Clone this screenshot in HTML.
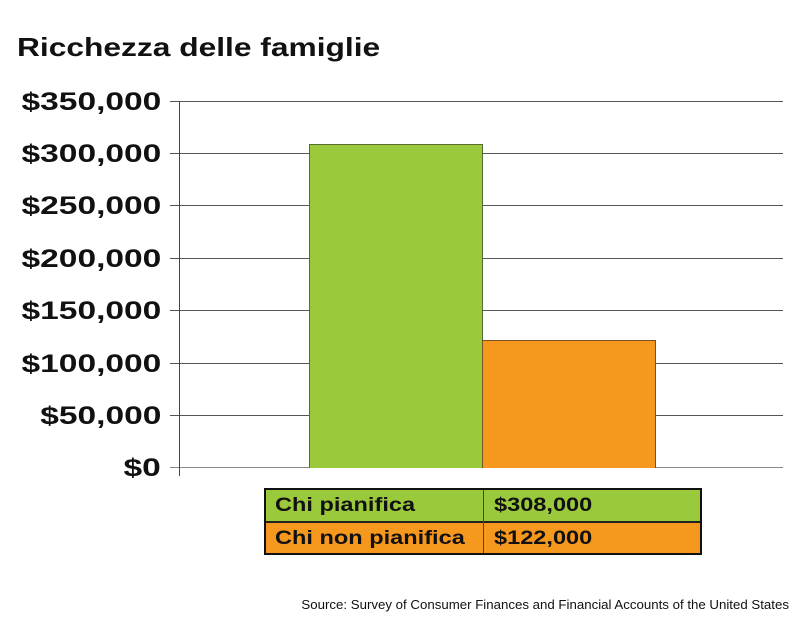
<!DOCTYPE html>
<html><head><style>
body{margin:0;width:803px;height:625px;background:#fff;position:relative;font-family:"Liberation Sans",Arial,sans-serif;overflow:hidden}
.t{position:absolute;left:17px;top:32px;font-size:26px;font-weight:bold;color:#111;transform:scaleX(1.22);transform-origin:left;white-space:nowrap}
.yl{position:absolute;right:642px;font-size:25px;font-weight:bold;color:#111;line-height:24px;transform:scaleX(1.34);transform-origin:right;white-space:nowrap}
.g{position:absolute;left:170px;width:613px;height:1px;background:#555}
.tb{position:absolute;left:264px;top:488px;width:434px;height:63px;border:2px solid #111}
.r{position:absolute;left:0;width:434px;height:31px;font-size:19px;font-weight:bold;color:#111;line-height:31px}
.c1,.c2{position:absolute;transform:scaleX(1.24);transform-origin:left;white-space:nowrap}
.c1{left:9px}.c2{left:228px}
.src{position:absolute;right:14px;top:598px;font-size:12.5px;color:#111;transform:scaleX(1.06);transform-origin:right;white-space:nowrap}
</style></head><body>
<div class="t">Ricchezza delle famiglie</div>
<div class="g" style="top:101px"></div>
<div class="g" style="top:153px"></div>
<div class="g" style="top:205px"></div>
<div class="g" style="top:258px"></div>
<div class="g" style="top:310px"></div>
<div class="g" style="top:363px"></div>
<div class="g" style="top:415px"></div>
<div class="g" style="top:467px;background:#888"></div>
<div style="position:absolute;left:179px;top:101px;width:1px;height:375px;background:#444"></div>
<div style="position:absolute;left:309px;top:144px;width:172px;height:323px;background:#9bc93c;border:1px solid #556b2f;border-bottom:none"></div>
<div style="position:absolute;left:482px;top:340px;width:172px;height:127px;background:#f7981e;border:1px solid #7a5020;border-bottom:none"></div>
<div class="yl" style="top:90px">$350,000</div>
<div class="yl" style="top:142px">$300,000</div>
<div class="yl" style="top:194px">$250,000</div>
<div class="yl" style="top:247px">$200,000</div>
<div class="yl" style="top:299px">$150,000</div>
<div class="yl" style="top:352px">$100,000</div>
<div class="yl" style="top:404px">$50,000</div>
<div class="yl" style="top:456px">$0</div>
<div class="tb">
<div class="r" style="top:0;background:#9bc93c;border-bottom:2px solid #222"><span class="c1">Chi pianifica</span><span class="c2">$308,000</span></div>
<div class="r" style="top:33px;height:30px;background:#f7981e"><span class="c1">Chi non pianifica</span><span class="c2">$122,000</span></div>
<div style="position:absolute;left:217px;top:0;width:1px;height:63px;background:#444"></div>
</div>
<div class="src">Source: Survey of Consumer Finances and Financial Accounts of the United States</div>
</body></html>
